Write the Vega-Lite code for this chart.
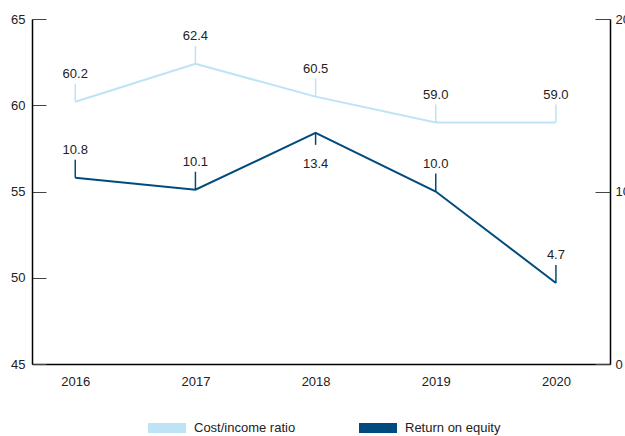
{
  "$schema": "https://vega.github.io/schema/vega-lite/v6.json",
  "width": 578,
  "height": 345,
  "autosize": {"type": "none"},
  "padding": {"left": 32, "top": 19, "right": 15, "bottom": 72},
  "background": "white",
  "config": {
    "view": {"stroke": null},
    "font": "Liberation Sans",
    "axis": {"grid": false, "labelFont": "Liberation Sans", "labelFontSize": 13, "labelColor": "#222", "domainColor": "#000", "tickColor": "#444", "title": null},
    "legend": {"labelFont": "Liberation Sans", "labelFontSize": 13, "labelColor": "#222"}
  },
  "data": {
    "values": [
      {"year": 2016, "series": "Cost/income ratio", "value": 60.2},
      {"year": 2017, "series": "Cost/income ratio", "value": 62.4},
      {"year": 2018, "series": "Cost/income ratio", "value": 60.5},
      {"year": 2019, "series": "Cost/income ratio", "value": 59.0},
      {"year": 2020, "series": "Cost/income ratio", "value": 59.0},
      {"year": 2016, "series": "Return on equity", "value": 10.8},
      {"year": 2017, "series": "Return on equity", "value": 10.1},
      {"year": 2018, "series": "Return on equity", "value": 13.4},
      {"year": 2019, "series": "Return on equity", "value": 10.0},
      {"year": 2020, "series": "Return on equity", "value": 4.7}
    ]
  },
  "encoding": {
    "x": {
      "field": "year", "type": "quantitative",
      "scale": {"domain": [2015.64, 2020.45], "nice": false, "zero": false},
      "axis": {"values": [2016, 2017, 2018, 2019, 2020], "format": "d", "ticks": false, "labelPadding": 11, "domainWidth": 1.5}
    },
    "color": {
      "field": "series", "type": "nominal",
      "scale": {"domain": ["Cost/income ratio", "Return on equity"], "range": ["#bde3f7", "#004b7d"]},
      "legend": {
        "title": null, "orient": "none", "legendX": 116, "legendY": 390, "direction": "horizontal",
        "symbolType": "M-1,-0.263H1V0.263H-1Z", "symbolSize": 1444, "labelOffset": 8, "columnPadding": 63,
        "encode": {"symbols": {"update": {"fill": {"scale": "color", "field": "value"}, "strokeWidth": {"value": 0}}}}
      }
    }
  },
  "layer": [
    {
      "transform": [{"filter": "datum.series === 'Cost/income ratio'"}],
      "encoding": {
        "y": {
          "field": "value", "type": "quantitative",
          "scale": {"domain": [45, 65], "nice": false, "zero": false},
          "axis": {"orient": "left", "values": [45, 50, 55, 60, 65], "tickSize": -14, "labelPadding": 21, "domainWidth": 1.5}
        }
      },
      "layer": [
        {"mark": {"type": "line", "strokeWidth": 2}},
        {"mark": {"type": "rule", "strokeWidth": 1.5, "y2Offset": -18}, "encoding": {"y2": {"field": "value"}}},
        {"mark": {"type": "text", "dy": -24, "baseline": "alphabetic", "fontSize": 13, "font": "Liberation Sans"}, "encoding": {"text": {"field": "value", "format": ".1f"}, "color": {"value": "#222"}}}
      ]
    },
    {
      "transform": [{"filter": "datum.series === 'Return on equity'"}],
      "encoding": {
        "y": {
          "field": "value", "type": "quantitative",
          "scale": {"domain": [0, 20], "nice": false, "zero": false},
          "axis": {"orient": "right", "values": [0, 10, 20], "tickSize": -15, "labelPadding": 20, "domainWidth": 1.5}
        }
      },
      "layer": [
        {"mark": {"type": "line", "strokeWidth": 2}},
        {"transform": [{"filter": "datum.year !== 2018"}], "mark": {"type": "rule", "strokeWidth": 1.5, "y2Offset": -18}, "encoding": {"y2": {"field": "value"}}},
        {"transform": [{"filter": "datum.year === 2018"}], "mark": {"type": "rule", "strokeWidth": 1.5, "y2Offset": 12}, "encoding": {"y2": {"field": "value"}}},
        {"transform": [{"filter": "datum.year !== 2018"}], "mark": {"type": "text", "dy": -24, "baseline": "alphabetic", "fontSize": 13, "font": "Liberation Sans"}, "encoding": {"text": {"field": "value", "format": ".1f"}, "color": {"value": "#222"}}},
        {"transform": [{"filter": "datum.year === 2018"}], "mark": {"type": "text", "dy": 35, "baseline": "alphabetic", "fontSize": 13, "font": "Liberation Sans"}, "encoding": {"text": {"field": "value", "format": ".1f"}, "color": {"value": "#222"}}}
      ]
    }
  ],
  "resolve": {"scale": {"y": "independent"}}
}
